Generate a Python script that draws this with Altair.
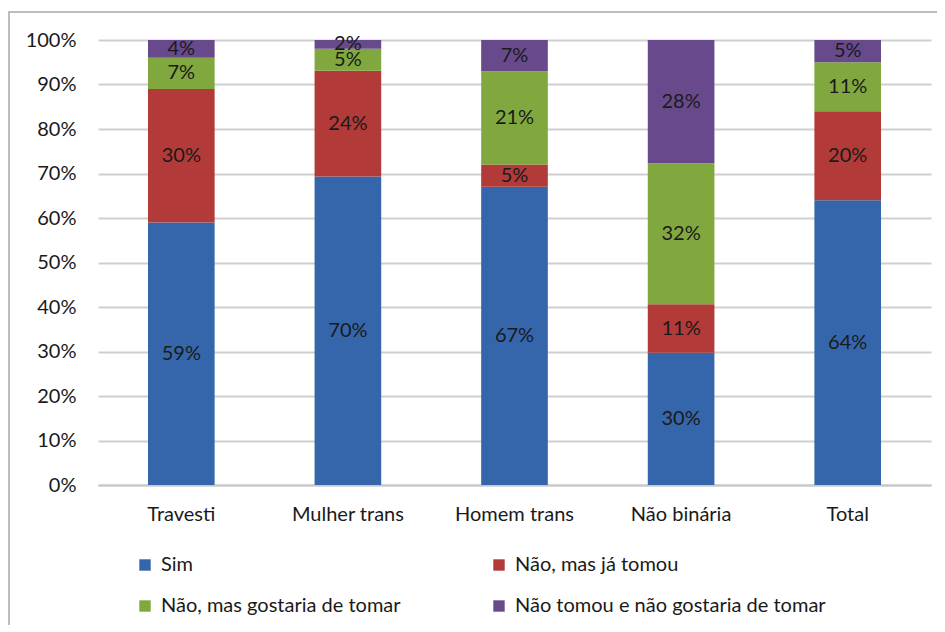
import altair as alt
import pandas as pd

categories = ["Travesti", "Mulher trans", "Homem trans", "Não binária", "Total"]
series = ["Sim", "Não, mas já tomou", "Não, mas gostaria de tomar", "Não tomou e não gostaria de tomar"]
sim = [59, 70, 67, 30, 64]
ja_tomou = [30, 24, 5, 11, 20]
gostaria = [7, 5, 21, 32, 11]
nao_gostaria = [4, 2, 7, 28, 5]
colors = ["#3566AB", "#B23A38", "#80A83F", "#684A8C"]

rows = []
for s_i, (s, vals) in enumerate(zip(series, [sim, ja_tomou, gostaria, nao_gostaria])):
    for c, v in zip(categories, vals):
        rows.append({"cat": c, "serie": s, "ord": s_i, "value": v, "label": f"{v}%"})
df = pd.DataFrame(rows)

FONT = "Lato"
FS = 20

base = alt.Chart(df).transform_stack(
    stack="value", groupby=["cat"], as_=["y0", "y1"], offset="normalize",
    sort=[alt.SortField("ord", order="ascending")]
).transform_calculate(mid="(datum.y0 + datum.y1) / 2")

x_enc = alt.X("cat:N", sort=categories, title=None,
              scale=alt.Scale(paddingInner=0.6, paddingOuter=0.3),
              axis=alt.Axis(labelAngle=0, labelFontSize=FS, labelFont=FONT, labelColor="#1a1a1a",
                            domainColor="#c8c8c8", domainWidth=2, ticks=False, labelPadding=19))

bars = base.mark_bar().encode(
    x=x_enc,
    y=alt.Y("y0:Q", title=None,
            scale=alt.Scale(domain=[0, 1], nice=False),
            axis=alt.Axis(format=".0%", values=[i / 10 for i in range(11)], labelFontSize=FS,
                          labelFont=FONT, labelColor="#1a1a1a", domain=False, ticks=False,
                          labelPadding=22, gridColor="#cfcfcf", gridWidth=2)),
    y2="y1:Q",
    color=alt.Color("serie:N", sort=series,
                    scale=alt.Scale(domain=series, range=colors),
                    legend=alt.Legend(title=None, orient="none", legendX=37, legendY=515,
                                      direction="horizontal", columns=2, columnPadding=88,
                                      rowPadding=21, symbolType="square", symbolSize=130,
                                      symbolStrokeWidth=0, labelFontSize=FS, labelFont=FONT,
                                      labelColor="#1a1a1a", labelOffset=6, labelLimit=500)),
)

texts = base.mark_text(fontSize=FS, font=FONT, color="#1a1a1a").encode(
    x=alt.X("cat:N", sort=categories),
    y=alt.Y("mid:Q"),
    text="label:N",
)

frame = alt.Chart(pd.DataFrame({"a": [0]})).mark_rect(
    fill=None, stroke="#bdbdbd", strokeWidth=2
).encode(x=alt.value(-89), x2=alt.value(845), y=alt.value(-28), y2=alt.value(620))

chart = alt.layer(frame, bars, texts).properties(
    width=833, height=445,
    autosize=alt.AutoSizeParams(type="none"),
    padding={"left": 90, "top": 32, "right": 6, "bottom": 140},
    background="white",
).configure_view(stroke=None)

chart.save("out.html", embed_options={"renderer": "svg", "actions": False})
